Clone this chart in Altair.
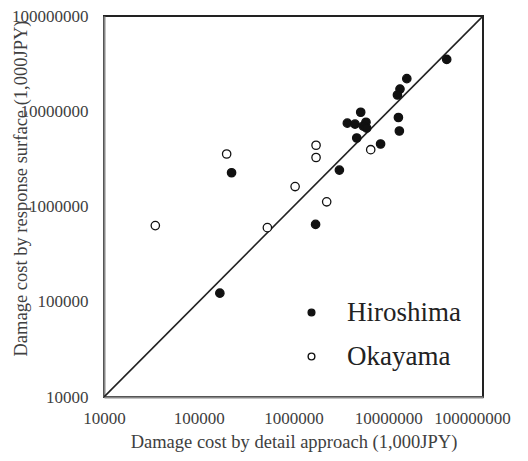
import altair as alt
import pandas as pd

# Hiroshima (filled)
hiro_x = [4.14e7, 1.57e7, 1.33e7, 1.25e7, 1.28e7, 1.31e7, 5.12e6, 3.70e6, 4.46e6,
          5.82e6, 5.45e6, 5.92e6, 4.65e6, 8.3e6, 3.05e6, 2.22e5, 1.71e6, 1.67e5]
hiro_y = [3.5e7, 2.2e7, 1.71e7, 1.48e7, 8.6e6, 6.2e6, 9.77e6, 7.5e6, 7.33e6,
          7.67e6, 6.98e6, 6.65e6, 5.24e6, 4.53e6, 2.41e6, 2.26e6, 6.49e5, 1.23e5]
# Okayama (open)
oka_x = [1.97e5, 1.73e6, 1.73e6, 6.53e6, 1.04e6, 2.24e6, 3.48e4, 5.3e5]
oka_y = [3.56e6, 4.4e6, 3.27e6, 3.95e6, 1.62e6, 1.12e6, 6.3e5, 6.0e5]

line_vals = [1e4, 1e8]
tick_vals = [1e4, 1e5, 1e6, 1e7, 1e8]
groups = ["Hiroshima", "Okayama"]

pts = pd.DataFrame({
    "x": hiro_x + oka_x,
    "y": hiro_y + oka_y,
    "site": ["Hiroshima"] * len(hiro_x) + ["Okayama"] * len(oka_x),
})
diag = pd.DataFrame({"x": line_vals, "y": line_vals})

FONT = "Liberation Serif"

xscale = alt.Scale(type="log", domain=[1e4, 1e8], nice=False)
yscale = alt.Scale(type="log", domain=[1e4, 1e8], nice=False)

xaxis = alt.Axis(values=tick_vals, format="d", title="Damage cost by detail approach (1,000JPY)",
                 grid=False, ticks=False, tickSize=0, labelPadding=13, titlePadding=6,
                 domainColor="#888888", domainWidth=2, labelFontSize=17, titleFontSize=18.5,
                 labelFont=FONT, titleFont=FONT, labelColor="#404040", titleColor="#404040",
                 titleFontWeight="normal", labelFlush=False, labelOverlap=False,
                 labelOffset={"condition": {"test": "datum.value > 5e7", "value": -11}, "value": 0})
yaxis = alt.Axis(values=tick_vals, format="d", title="Damage cost by response surface (1,000JPY)",
                 grid=False, ticks=False, tickSize=0, labelPadding=16,
                 domainColor="#888888", domainWidth=2, labelFontSize=17, titleFontSize=18.5,
                 labelFont=FONT, titleFont=FONT, labelColor="#404040", titleColor="#404040",
                 titleFontWeight="normal", labelFlush=False, labelOverlap=False,
                 titleX=-84, titleY=172, titleBaseline="middle", titleAngle=270)

line = alt.Chart(diag).mark_line(color="#222222", strokeWidth=1.6, clip=True).encode(
    x=alt.X("x:Q", scale=xscale, axis=xaxis),
    y=alt.Y("y:Q", scale=yscale, axis=yaxis),
)

points = alt.Chart(pts).mark_circle(stroke="#111111", strokeWidth=1.3, opacity=1, size=70).encode(
    x=alt.X("x:Q", scale=xscale),
    y=alt.Y("y:Q", scale=yscale),
    fill=alt.Fill("site:N", scale=alt.Scale(domain=groups, range=["#111111", "#ffffff"]),
                  legend=alt.Legend(title=None, orient="none", legendX=194, legendY=283,
                                    direction="vertical",
                                    padding=0, labelFontSize=27, labelFont=FONT,
                                    labelColor="#222222", labelOffset=22, rowPadding=16,
                                    symbolType="circle", symbolSize=45, symbolOpacity=1,
                                    symbolStrokeColor="#111111", symbolStrokeWidth=1.4)),
)

chart = alt.layer(line, points).properties(
    width=379, height=381,
    background="white",
    autosize=alt.AutoSizeParams(type="none"),
    padding={"left": 96, "top": 8, "right": 37, "bottom": 64},
).configure_view(stroke="#222222", strokeWidth=2)

chart.save("out.html", embed_options={"renderer": "svg", "actions": False})
